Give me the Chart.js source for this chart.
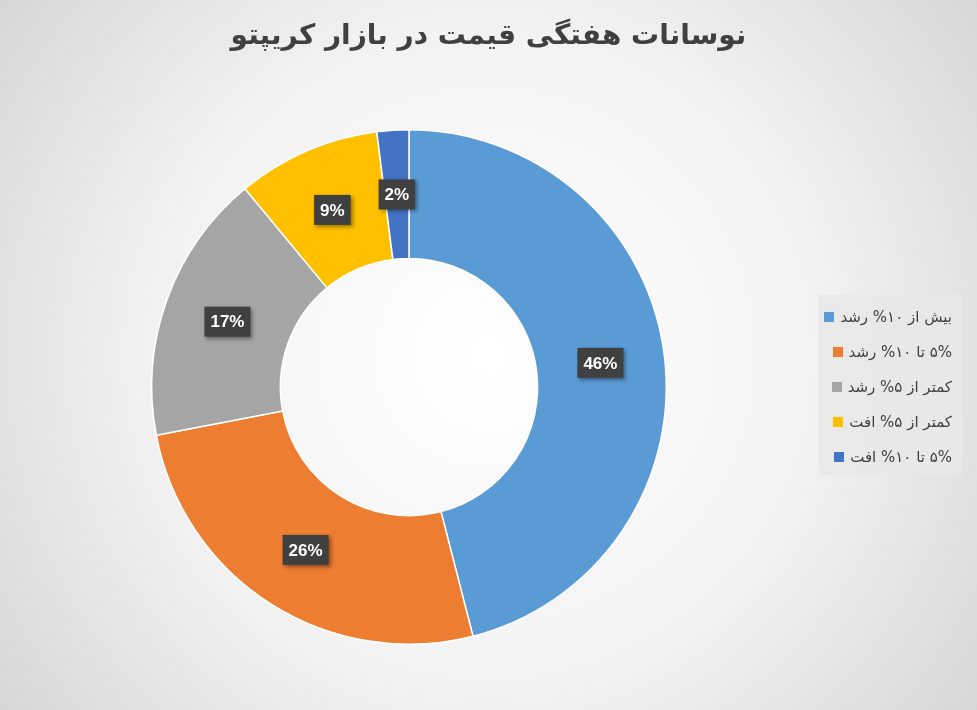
<!DOCTYPE html>
<html>
<head>
<meta charset="utf-8">
<script src="https://cdn.jsdelivr.net/npm/chart.js@4"></script>
<style>
  html, body { margin: 0; padding: 0; }
  body { width: 977px; height: 710px; background: radial-gradient(circle at 50% 50%, #ffffff 0%, #f2f2f2 55%, #d6d6d6 100%); font-family: "DejaVu Sans", sans-serif; }
  #wrap { position: absolute; left: 0; top: 0; width: 977px; height: 710px; }
  #title { position: absolute; left: 0; top: 18px; width: 977px; text-align: center; font-size: 28px; font-weight: bold; color: #404040; direction: rtl; }
  #legend { position: absolute; left: 818px; top: 295px; width: 144px; height: 180px; background: rgba(232,232,232,0.9); direction: rtl; box-sizing: border-box; padding: 10px 10px 0 0; }
  .item { height: 35px; line-height: 24px; font-size: 15px; color: #404040; white-space: nowrap; }
  .sw { display: inline-block; width: 10px; height: 10px; margin-right: 6px; }
</style>
</head>
<body>
<div id="wrap"><canvas id="myChart"></canvas></div>
<div id="title"></div>
<div id="legend"></div>
<script>
'use strict';

//--------------------DATA
let chartTitle = 'نوسانات هفتگی قیمت در بازار کریپتو';
let categories = ['بیش از ۱۰% رشد', '۵% تا ۱۰% رشد', 'کمتر از ۵% رشد', 'کمتر از ۵% افت', '۵% تا ۱۰% افت'];
let shares = [46, 26, 17, 9, 2];
let colors = ['#5b9bd5', '#ed7d31', '#a5a5a5', '#ffc000', '#4472c4'];

//--------------------TITLE + LEGEND
document.getElementById('title').textContent = chartTitle;
let legendElem = document.getElementById('legend');
for (let i = 0; i < categories.length; i++) {
  let row = document.createElement('div');
  row.className = 'item';
  let sw = document.createElement('span');
  sw.className = 'sw';
  sw.style.background = colors[i];
  let txt = document.createElement('span');
  txt.textContent = categories[i];
  row.appendChild(txt);
  row.appendChild(sw);
  legendElem.appendChild(row);
}

//--------------------LABEL PLUGIN
let boxLabels = {
  id: 'boxLabels',
  afterDatasetsDraw(chart) {
    let ctx = chart.ctx;
    let meta = chart.getDatasetMeta(0);
    ctx.save();
    ctx.font = 'bold 17px "Liberation Sans", Arial';
    ctx.textAlign = 'center';
    ctx.textBaseline = 'middle';
    meta.data.forEach((arc, i) => {
      let p = arc.tooltipPosition();
      let txt = shares[i] + '%';
      let w = ctx.measureText(txt).width + 12;
      let h = 30;
      ctx.fillStyle = '#404040';
      ctx.shadowColor = 'rgba(0,0,0,0.4)';
      ctx.shadowBlur = 4;
      ctx.shadowOffsetX = 2;
      ctx.shadowOffsetY = 2;
      ctx.fillRect(p.x - w / 2, p.y - h / 2, w, h);
      ctx.shadowColor = 'transparent';
      ctx.fillStyle = '#ffffff';
      ctx.fillText(txt, p.x, p.y + 1);
    });
    ctx.restore();
  }
};

//--------------------CHART
let canvasElem = document.getElementById('myChart');

new Chart(canvasElem, {
  type: 'doughnut',
  data: {
    labels: categories,
    datasets: [{
      data: shares,
      backgroundColor: colors,
      borderColor: '#ffffff',
      borderWidth: 1.5,
    }],
  },
  options: {
    responsive: true,
    maintainAspectRatio: false,
    animation: false,
    cutout: '50%',
    layout: { padding: { top: 129, bottom: 65, left: 151, right: 310 } },
    plugins: {
      legend: { display: false },
      tooltip: { enabled: false },
    },
  },
  plugins: [boxLabels],
});
</script>
</body>
</html>
